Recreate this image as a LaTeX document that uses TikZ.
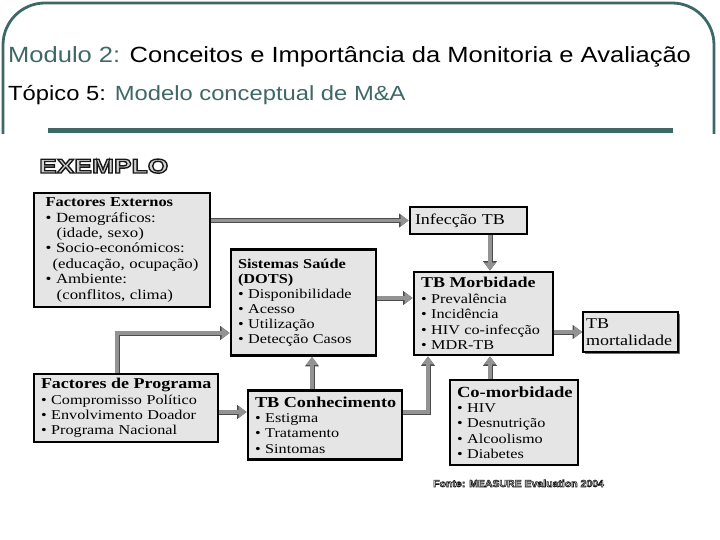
\documentclass[tikz,border=0pt]{standalone}
\usepackage{fontspec}
\setmainfont{Liberation Serif}
\setsansfont{Liberation Sans}
\usepackage{xcolor}
\usetikzlibrary{arrows.meta, shadows}

\definecolor{slate}{RGB}{62,104,102}
\newfontfamily\boxfont{Liberation Serif}[FakeStretch=1.2]
\newfontfamily\headfont{Liberation Sans}[FakeStretch=1.16]
\newfontfamily\stampfont{Liberation Sans}[FakeStretch=1.32]
\newfontfamily\notefont{Liberation Sans}[FakeStretch=1.05]
\newcommand{\bul}{\textbullet\ }
\newcommand{\hd}[2]{\mbox{\fontsize{#1}{15.4}\selectfont\bfseries #2}}
% hollow letters: fill light, stroke dark
\newcommand{\hollow}[2]{\special{pdf:literal direct 2 Tr #1 w 0.1 0.1 0.1 RG}#2\special{pdf:literal direct 0 Tr}}

\begin{document}
\begin{tikzpicture}[
        x=1pt, y=-1pt,
        box/.style={rectangle, draw=black, line width=2.8pt, fill=black!10, align=left, inner xsep=7pt, inner ysep=4pt, font=\boxfont\fontsize{13.5}{15.4}\selectfont},
        thinbox/.style={box, line width=1.6pt, inner xsep=3pt, font=\boxfont\fontsize{15}{16.5}\selectfont,
            drop shadow={shadow xshift=2.2pt, shadow yshift=-2.2pt, fill=black!55, opacity=1}},
        arrow/.style={-{Triangle[length=8pt,width=11pt]}, line width=3.4pt, draw=gray!85,
            preaction={draw=black!70, line width=5pt, -{Triangle[length=9.5pt,width=13.5pt]}}},
        frame/.style={draw=slate, line width=2.8pt, rounded corners=42pt},
        rule/.style={draw=slate, line width=4.5pt}
    ]
        \useasboundingbox (0,0) rectangle (720,540);

        % slide header
        \draw[frame] (3,134) -- (3,3) -- (714,3) -- (714,134);
        \node[anchor=base west, inner sep=0pt, font=\headfont\fontsize{22}{26}\selectfont] (title) at (8,63)
            {\textcolor{slate}{Modulo 2:} Conceitos e Importância da Monitoria e Avaliação};
        \node[anchor=base west, inner sep=0pt, font=\headfont\fontsize{20.5}{24}\selectfont] (topic) at (8,101)
            {Tópico 5: \textcolor{slate}{Modelo conceptual de M\&A}};
        \draw[rule] (48,130.5) -- (673,130.5);

        % diagram
        \node[anchor=base west, inner sep=0pt, font=\stampfont\bfseries\fontsize{20}{24}\selectfont] (exemplo) at (39,173)
            {\textcolor{black!18}{\hollow{1.4}{EXEMPLO}}};

        \node[box, minimum width=176, minimum height=114, text width=153, inner xsep=11.5pt, font=\boxfont\fontsize{14}{15.4}\selectfont] (ext) at (122,250)
            {\hd{13.7}{Factores Externos}\\
             \bul Demográficos:\\
             \hspace*{0.8em}(idade, sexo)\\
             \bul Socio-económicos:\\
             \mbox{\hspace*{0.5em}(educação, ocupação)}\\
             \bul Ambiente:\\
             \hspace*{0.8em}(conflitos, clima)};
        \node[box, minimum width=117, minimum height=27, text width=107, inner xsep=5pt, font=\boxfont\fontsize{15}{17}\selectfont] (infec) at (468.5,220.5)
            {Infecção TB};
        \node[box, minimum width=145, minimum height=106, text width=131, font=\boxfont\fontsize{13.5}{15}\selectfont] (saude) at (303.5,302.5)
            {\hd{13.6}{Sistemas Saúde}\\
             \hd{13.6}{(DOTS)}\\
             \bul Disponibilidade\\
             \bul Acesso\\
             \bul Utilização\\
             \bul Detecção Casos};
        \node[box, minimum width=139, minimum height=83, text width=125] (morb) at (483.5,313.5)
            {\hd{15}{TB Morbidade}\\
             \bul Prevalência\\
             \bul Incidência\\
             \bul HIV co-infecção\\
             \bul MDR-TB};
        \node[thinbox, minimum width=95, minimum height=40, text width=89] (mort) at (630.5,332)
            {TB\\mortalidade};
        \node[box, minimum width=184, minimum height=68, text width=170] (prog) at (126,408)
            {\hd{15}{Factores de Programa}\\
             \bul Compromisso Político\\
             \bul Envolvimento Doador\\
             \bul Programa Nacional};
        \node[box, minimum width=154, minimum height=69, text width=140] (conh) at (325,425)
            {\hd{15.2}{TB Conhecimento}\\
             \bul Estigma\\
             \bul Tratamento\\
             \bul Sintomas};
        \node[box, minimum width=128, minimum height=85, text width=114] (comorb) at (514,422.5)
            {\hd{15.5}{Co-morbidade}\\
             \bul HIV\\
             \bul Desnutrição\\
             \bul Alcoolismo\\
             \bul Diabetes};

        \node[anchor=base west, inner sep=0pt, font=\notefont\bfseries\fontsize{10}{12}\selectfont] (fonte) at (433,487)
            {\textcolor{black!15}{\hollow{0.6}{Fonte: MEASURE Evaluation 2004}}};

        \draw[arrow] (ext.east |- infec.west) -- (infec.west);
        \draw[arrow] ([xshift=6.5]infec.south -| morb.north) -- ([xshift=6.5]morb.north);
        \draw[arrow] ([yshift=4.5]saude.east) -- ([yshift=4.5]saude.east -| morb.west);
        \draw[arrow] (morb.east |- mort.west) -- (mort.west);
        \draw[arrow] ([xshift=-9]prog.north) |- ([yshift=-30.5]saude.west);
        \draw[arrow] ([yshift=-4]prog.east) -- ([yshift=-4]prog.east -| conh.west);
        \draw[arrow] ([xshift=-13]conh.north) -- ([xshift=-13]conh.north |- saude.south);
        \draw[arrow] ([yshift=13]conh.east) -| ([xshift=-55.5]morb.south);
        \draw[arrow] ([xshift=6.5]morb.south |- comorb.north) -- ([xshift=6.5]morb.south);
    \end{tikzpicture}
\end{document}
